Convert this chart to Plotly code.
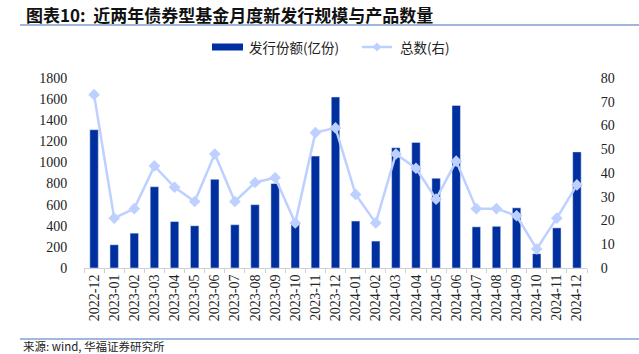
import plotly.graph_objects as go

months = ["2022-12", "2023-01", "2023-02", "2023-03", "2023-04", "2023-05", "2023-06",
          "2023-07", "2023-08", "2023-09", "2023-10", "2023-11", "2023-12", "2024-01",
          "2024-02", "2024-03", "2024-04", "2024-05", "2024-06", "2024-07", "2024-08",
          "2024-09", "2024-10", "2024-11", "2024-12"]
issue_share = [1310, 220, 330, 770, 440, 400, 840, 410, 600, 800, 420, 1060, 1620, 445,
               255, 1140, 1190, 850, 1540, 390, 395, 570, 135, 380, 1100]
fund_count = [73, 21, 25, 43, 34, 28, 48, 28, 36, 38, 19, 57, 59, 31,
              19, 48, 42, 29, 45, 25, 25, 22, 8, 21, 35]

bar_name = "发行份额(亿份)"
line_name = "总数(右)"
title_text = "图表10:  近两年债券型基金月度新发行规模与产品数量"
source_text = "来源: wind, 华福证券研究所"

bar_color = "#0030A0"
line_color = "#BDD0FF"

W, H = 639, 354
ml, mr, mt, mb = 84, 52, 78, 86
pw, ph = W - ml - mr, H - mt - mb

def px(x):
    return (x - ml) / pw

def py(y):
    return (H - mb - y) / ph

serif = "Liberation Serif"
cjk = "Noto Sans CJK SC"

fig = go.Figure()
fig.add_trace(go.Bar(x=months, y=issue_share, name=bar_name, marker_color=bar_color,
                     width=0.42, yaxis="y"))
fig.add_trace(go.Scatter(x=months, y=fund_count, name=line_name, yaxis="y2",
                         mode="lines+markers",
                         line=dict(color=line_color, width=2.5),
                         marker=dict(symbol="diamond", size=9, color=line_color)))

fig.update_layout(
    width=W, height=H,
    margin=dict(l=ml, r=mr, t=mt, b=mb, autoexpand=False),
    paper_bgcolor="white", plot_bgcolor="white",
    font=dict(family=serif, size=14, color="#222222"),
    xaxis=dict(type="category", tickangle=-90, showline=True, linecolor="#D0D0D0",
               ticks="outside", tickson="boundaries", ticklen=4, tickcolor="#D0D0D0",
               tickfont=dict(family=serif, size=14, color="#222222"), showgrid=False,
               automargin=False, range=[-0.5, 24.5]),
    yaxis=dict(range=[0, 1800], dtick=200, showgrid=False, showline=False,
               zeroline=False, ticks="outside", ticklen=13, tickcolor="rgba(0,0,0,0)",
               tickfont=dict(family=serif, size=14), automargin=False),
    yaxis2=dict(range=[0, 80], dtick=10, overlaying="y", side="right", showgrid=False,
                showline=False, zeroline=False, ticks="outside", ticklen=10,
                tickcolor="rgba(0,0,0,0)",
                tickfont=dict(family=serif, size=14), automargin=False),
    showlegend=False,
)

# custom legend
ly = 47
fig.add_shape(type="rect", xref="paper", yref="paper", x0=px(212), x1=px(243),
              y0=py(ly + 3.5), y1=py(ly - 3.5), fillcolor=bar_color, line=dict(width=0))
fig.add_annotation(text=bar_name, xref="paper", yref="paper", x=px(247), y=py(ly),
                   xanchor="left", yanchor="middle", showarrow=False,
                   font=dict(family=cjk, size=13.5, color="#222222"))
fig.add_shape(type="line", xref="paper", yref="paper", x0=px(362), x1=px(392),
              y0=py(ly), y1=py(ly), line=dict(color=line_color, width=2.5))
fig.add_shape(type="path", xref="paper", yref="paper",
              path="M {a},{c} L {b},{d} L {e},{c} L {b},{f} Z".format(
                  a=px(372.5), b=px(377), e=px(381.5), c=py(ly), d=py(ly - 4.5), f=py(ly + 4.5)),
              fillcolor=line_color, line=dict(width=0))
fig.add_annotation(text=line_name, xref="paper", yref="paper", x=px(398), y=py(ly),
                   xanchor="left", yanchor="middle", showarrow=False,
                   font=dict(family=cjk, size=13.5, color="#222222"))

fig.add_annotation(text="<b>" + title_text + "</b>", xref="paper", yref="paper",
                   x=px(24), y=py(14), xanchor="left", yanchor="middle", showarrow=False,
                   font=dict(family=cjk, size=17, color="#111111"))
fig.add_annotation(text=source_text, xref="paper", yref="paper",
                   x=px(22), y=py(345.5), xanchor="left", yanchor="middle", showarrow=False,
                   borderpad=0, font=dict(family=cjk, size=11.5, color="#222222"))

fig.add_shape(type="line", xref="paper", yref="paper", x0=px(20), x1=px(639),
              y0=py(25), y1=py(25), line=dict(color="#9FB6D8", width=2))
fig.add_shape(type="line", xref="paper", yref="paper", x0=px(20), x1=px(639),
              y0=py(339), y1=py(339), line=dict(color="#4472C4", width=1.2))

fig.write_html("out.html")
